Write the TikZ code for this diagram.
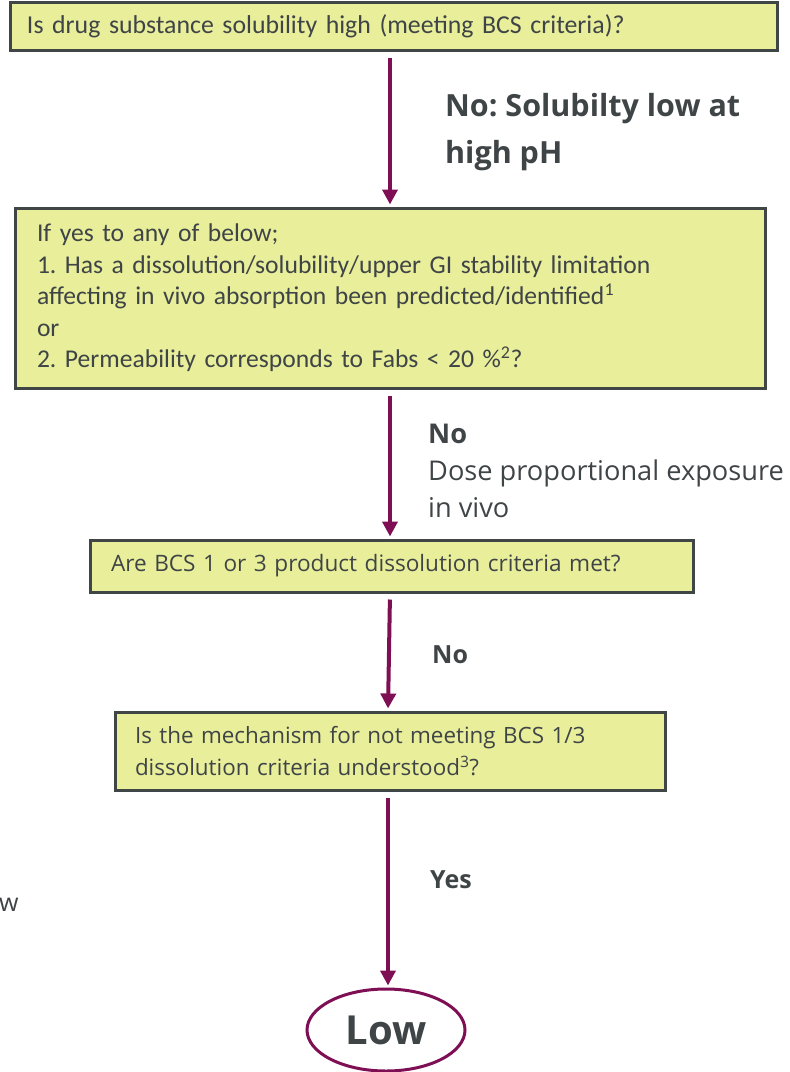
\documentclass[tikz,border=0pt]{standalone}
\usepackage{fontspec}
\setmainfont{Carlito}
\newfontfamily\osans{Open Sans}
\usetikzlibrary{arrows.meta,shapes.geometric}
\definecolor{boxfill}{HTML}{E8EE9A}
\definecolor{boxdraw}{HTML}{404545}
\definecolor{burg}{HTML}{7F0F55}
\definecolor{txt}{HTML}{3F4446}
\frenchspacing
\tikzset{
  qbox/.style={draw=boxdraw, line width=3pt, fill=boxfill, text=txt, inner sep=0pt, align=left},
  flow/.style={draw=burg, line width=4pt, -{Triangle[length=15pt,width=15pt]}, shorten <=6pt, shorten >=2pt},
  lbl/.style={text=txt, inner sep=0pt, align=left, anchor=west},
}
\begin{document}
\begin{tikzpicture}[x=1pt,y=-1pt]
\useasboundingbox (0,0) rectangle (790,1072);
\coordinate (xa) at (390,0);
\coordinate (xb) at (388,0);

\node[qbox, minimum width=767pt, minimum height=48pt, text width=733pt,
      font=\fontsize{25.8}{28}\selectfont] (b1) at (393.5,26)
  {Is drug substance solubility high (meeting BCS criteria)?};

\node[qbox, minimum width=750pt, minimum height=180pt, text width=706pt,
      font=\fontsize{25.6}{31.5}\selectfont] (b2) at (390,298)
  {If yes to any of below;\\
   1. Has a dissolution/solubility/upper GI stability limitation\\
   affecting in vivo absorption been predicted/identified\textsuperscript{1}\\
   or\\
   2. Permeability corresponds to Fabs < 20 \%\textsuperscript{2}?};

\node[qbox, minimum width=603pt, minimum height=52pt, text width=561pt,
      font=\osans\fontsize{22.6}{26}\selectfont] (b3) at (391.5,566)
  {Are BCS 1 or 3 product dissolution criteria met?};

\node[qbox, minimum width=550pt, minimum height=78pt, text width=510pt,
      font=\osans\fontsize{22.4}{32}\selectfont] (b4) at (390,751)
  {Is the mechanism for not meeting BCS 1/3\\
   dissolution criteria understood\textsuperscript{3}?};

\node[ellipse, draw=burg, line width=3pt, fill=white, minimum width=158pt, minimum height=82pt,
      text=txt, font=\osans\bfseries\fontsize{40}{44}\selectfont] (low) at (386,1030) {Low};

\draw[flow] (b1.south -| xa) -- (b2.north -| xa);
\draw[flow] (b2.south -| xa) -- (b3.north -| xa);
\draw[flow] (b3.south -| xa) -- (b4.north -| xb);
\draw[flow] (b4.south -| xb) -- (low.north -| xb);

\node[lbl, font=\osans\bfseries\fontsize{30.5}{47}\selectfont] (l1) at (445,132)
  {No: Solubilty low at\\high pH};
\node[lbl, font=\osans\fontsize{27.2}{37}\selectfont] (l2) at (428,471)
  {\textbf{No}\\Dose proportional exposure\\in vivo};
\node[lbl, font=\osans\bfseries\fontsize{25}{28}\selectfont] (l3) at (432,655) {No};
\node[lbl, font=\osans\bfseries\fontsize{25}{28}\selectfont] (l4) at (430,880) {Yes};
\node[lbl, font=\osans\fontsize{25}{28}\selectfont] (l5) at (-1,905) {w};
\end{tikzpicture}
\end{document}
